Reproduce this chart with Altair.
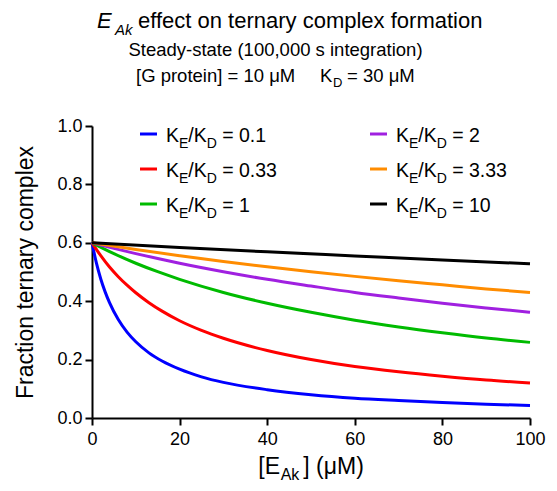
import altair as alt
import pandas as pd

FONT = "Liberation Sans"

# ---------------- data ----------------
series_labels = ["0.1", "0.33", "1", "2", "3.33", "10"]
series_colors = ["#0000FF", "#FF0000", "#00BB00", "#A020E0", "#FF8C00", "#000000"]

x_01 = [0, 1, 2, 3, 4, 6, 8, 10, 13, 16, 20, 25, 30, 40, 50, 60, 70, 80, 90, 100]
y_01 = [0.600, 0.531, 0.476, 0.432, 0.395, 0.337, 0.294, 0.261, 0.223, 0.195,
        0.167, 0.141, 0.122, 0.097, 0.080, 0.068, 0.060, 0.053, 0.047, 0.043]

x_033 = [0, 2, 4, 6, 8, 10, 13, 16, 20, 25, 30, 40, 50, 60, 70, 80, 90, 100]
y_033 = [0.600, 0.556, 0.517, 0.484, 0.455, 0.429, 0.395, 0.366, 0.333, 0.300,
         0.273, 0.231, 0.200, 0.176, 0.158, 0.143, 0.130, 0.120]

x_1 = [0, 5, 10, 15, 20, 30, 40, 50, 60, 70, 80, 90, 100]
y_1 = [0.600, 0.563, 0.530, 0.501, 0.475, 0.430, 0.393, 0.362, 0.335, 0.312, 0.292, 0.274, 0.259]

x_2 = [0, 5, 10, 15, 20, 30, 40, 50, 60, 70, 80, 90, 100]
y_2 = [0.600, 0.581, 0.563, 0.546, 0.530, 0.501, 0.475, 0.452, 0.430, 0.411, 0.393, 0.377, 0.362]

x_333 = [0, 10, 20, 30, 40, 50, 60, 70, 80, 90, 100]
y_333 = [0.600, 0.577, 0.556, 0.536, 0.518, 0.501, 0.485, 0.470, 0.456, 0.442, 0.430]

x_10 = [0, 20, 40, 60, 80, 100]
y_10 = [0.600, 0.584, 0.569, 0.555, 0.541, 0.528]

x_ticks = [0, 20, 40, 60, 80, 100]
y_ticks = [0.0, 0.2, 0.4, 0.6, 0.8, 1.0]

series_x = [x_01, x_033, x_1, x_2, x_333, x_10]
series_y = [y_01, y_033, y_1, y_2, y_333, y_10]

rows = []
for order, (lab, xs, ys) in enumerate(zip(series_labels, series_x, series_y)):
    for xv, yv in zip(xs, ys):
        rows.append({"series": lab, "order": order, "E": xv, "frac": yv})
lines_df = pd.DataFrame(rows)

# ---------------- layout (pixels, relative to plot area) ----------------
W, H = 438, 292
PAD = {"left": 84, "top": 118, "right": 19, "bottom": 65}

color_scale = alt.Scale(domain=series_labels, range=series_colors)

lines = alt.Chart(lines_df).mark_line(
    strokeWidth=3, interpolate="monotone", clip=False
).encode(
    x=alt.X("E:Q", scale=alt.Scale(domain=[0, 100], nice=False),
            axis=alt.Axis(values=x_ticks, title=None, format="d", labelFlush=False)),
    y=alt.Y("frac:Q", scale=alt.Scale(domain=[0, 1], nice=False),
            axis=alt.Axis(values=y_ticks, format=".1f", labelFlush=False,
                          title="Fraction ternary complex",
                          titleFontSize=23, titlePadding=19)),
    color=alt.Color("series:N", scale=color_scale, legend=None),
    order=alt.Order("order:Q"),
    detail="series:N",
)

# ---- text pieces: (x, baseline y, text, size, italic) ----
texts = []
# main title
texts += [
    (5, -97.8, "E", 22, True),
    (23, -91.3, "Ak", 15, True),
    (46, -97.8, "effect on ternary complex formation", 22, False),
]
# subtitle lines
texts += [
    (183.5, -70, "Steady-state (100,000 s integration)", 18.5, None),
    (44, -44.3, "[G protein] = 10 \u03bcM", 18.5, False),
    (228, -44.3, "K", 18.5, False),
    (241, -39.5, "D", 13, False),
    (255, -44.3, "= 30 \u03bcM", 18.5, False),
]
# x-axis title
texts += [
    (166.3, 347.5, "[E", 23, False),
    (188.7, 353.5, "Ak", 16, False),
    (211.3, 347.5, "] (\u03bcM)", 23, False),
]

# legend
leg_rows = []
leg_texts = []
for i, (lab, col) in enumerate(zip(series_labels, series_colors)):
    c = i // 3
    r = i % 3
    ly = 8 + 35 * r
    sx = 48 + 230 * c
    leg_rows.append({"x": sx, "x2": sx + 17, "y": ly, "c": col})
    tx = 74 + 230 * c
    by = ly + 8.3
    leg_texts += [
        (tx, by, "K", 19.5, False),
        (tx + 13.0, by + 6, "E", 14, False),
        (tx + 22.3, by, "/K", 19.5, False),
        (tx + 40.7, by + 6, "D", 14, False),
        (tx + 56.2, by, "= " + lab, 19.5, False),
    ]
texts += leg_texts

tdf = pd.DataFrame(texts, columns=["x", "y", "t", "s", "it"])


def text_layer(df, style, align="left"):
    return alt.Chart(df).mark_text(
        align=align, baseline="alphabetic", font=FONT, fontStyle=style, color="black"
    ).encode(
        x=alt.X("x:Q", scale=None, axis=None),
        y=alt.Y("y:Q", scale=None, axis=None),
        text="t:N",
        size=alt.Size("s:Q", scale=None, legend=None),
    )


t_norm = text_layer(tdf[tdf["it"] == False], "normal")
t_ital = text_layer(tdf[tdf["it"] == True], "italic")
t_center = text_layer(tdf[tdf["it"].isna()], "normal", align="center")

leg_df = pd.DataFrame(leg_rows)
leg_lines = alt.Chart(leg_df).mark_rule(strokeWidth=3).encode(
    x=alt.X("x:Q", scale=None, axis=None),
    x2="x2:Q",
    y=alt.Y("y:Q", scale=None, axis=None),
    color=alt.Color("c:N", scale=None, legend=None),
)

chart = alt.layer(lines, leg_lines, t_norm, t_ital, t_center).resolve_scale(
    x="independent", y="independent", color="independent", size="independent"
).properties(
    width=W, height=H,
    autosize=alt.AutoSizeParams(type="none"),
    padding=PAD,
).configure_view(stroke=None).configure_axis(
    grid=False,
    domainColor="black", domainWidth=2,
    tickColor="black", tickWidth=2, tickSize=7,
    labelFont=FONT, labelFontSize=18, labelColor="black",
    titleFont=FONT, titleFontWeight="normal", titleColor="black",
).configure_axisX(labelPadding=5).configure_axisY(labelPadding=3)

chart.save("out.html", embed_options={"renderer": "svg", "actions": False})
